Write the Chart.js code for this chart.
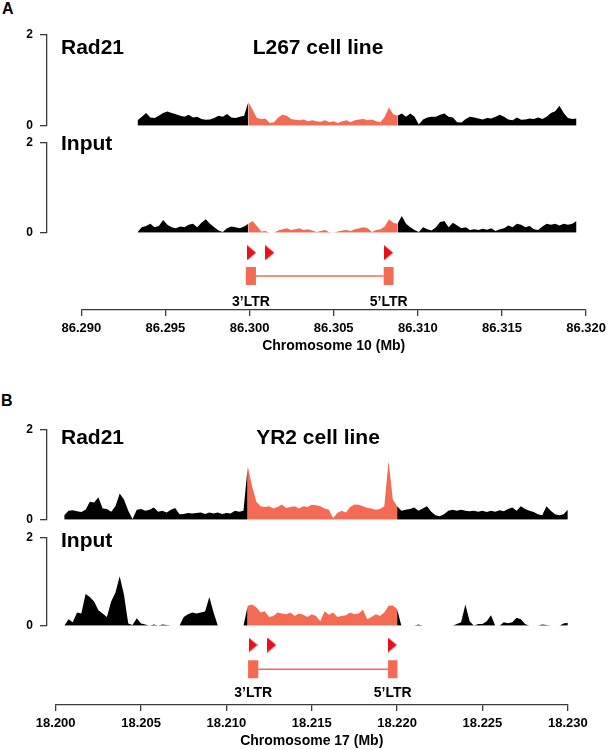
<!DOCTYPE html>
<html>
<head>
<meta charset="utf-8">
<script src="https://cdn.jsdelivr.net/npm/chart.js@4.4.0/dist/chart.umd.min.js"></script>
<style>
  body { margin: 0; background: #fff; }
  #page { position: relative; width: 611px; height: 750px; overflow: hidden;
          font-family: "Liberation Sans", Arial, Helvetica, sans-serif; font-weight: bold; color: #000; }
  #page canvas { position: absolute; left: 0; }
  .lbl { position: absolute; white-space: nowrap; }
</style>
</head>
<body>
<div id="page"></div>
<script>
// coverage bins are 0.25 kb wide, first bin position given per track (Mb)
const binKb = 0.25

// Panel A - L267 cell line, chromosome 10
const startA = 86.2933
const rad21A = [
  0.12, 0.2, 0.28, 0.18, 0.17, 0.22, 0.28, 0.31, 0.28, 0.25,
  0.22, 0.2, 0.24, 0.18, 0.2, 0.15, 0.13, 0.14, 0.17, 0.22,
  0.2, 0.26, 0.18, 0.17, 0.2, 0.22, 0.52, 0.35, 0.17, 0.15,
  0.16, 0.06, 0.08, 0.18, 0.24, 0.22, 0.15, 0.13, 0.12, 0.14,
  0.1, 0.12, 0.1, 0.09, 0.12, 0.08, 0.1, 0.06, 0.1, 0.12,
  0.08, 0.12, 0.14, 0.15, 0.12, 0.14, 0.1, 0.08, 0.2, 0.4,
  0.25, 0.22, 0.27, 0.2, 0.27, 0.2, 0.03, 0.14, 0.18, 0.2,
  0.2, 0.24, 0.27, 0.2, 0.18, 0.08, 0.07, 0.15, 0.2, 0.18,
  0.16, 0.14, 0.17, 0.16, 0.2, 0.24, 0.2, 0.14, 0.12, 0.18,
  0.13, 0.14, 0.16, 0.15, 0.18, 0.15, 0.2, 0.28, 0.32, 0.44,
  0.28, 0.17, 0.15, 0.16
]
const inputA = [
  0.02, 0.12, 0.15, 0.2, 0.12, 0.15, 0.28, 0.18, 0.12, 0.1,
  0.14, 0.12, 0.18, 0.2, 0.12, 0.22, 0.3, 0.2, 0.12, 0.05,
  0.02, 0.1, 0.14, 0.12, 0.1, 0.14, 0.2, 0.26, 0.15, 0.03,
  0.04, 0, 0, 0.05, 0.08, 0.1, 0.06, 0.08, 0.1, 0.06,
  0.08, 0.05, 0.02, 0.04, 0.06, 0.01, 0, 0.03, 0.05, 0.06,
  0.04, 0.08, 0.1, 0.12, 0.1, 0.02, 0.06, 0.08, 0.14, 0.3,
  0.22, 0.2, 0.37, 0.2, 0.12, 0.06, 0.02, 0.12, 0.08, 0.05,
  0.12, 0.24, 0.26, 0.12, 0.22, 0.16, 0.1, 0.12, 0.06, 0.08,
  0.06, 0.09, 0.07, 0.1, 0.04, 0.08, 0.1, 0.16, 0.12, 0.2,
  0.18, 0.12, 0.15, 0.08, 0.06, 0.14, 0.2, 0.18, 0.2, 0.16,
  0.2, 0.18, 0.2, 0.26
]
const ltrA = [[86.29978, 86.30038], [86.30797, 86.30856]]
const motifsA = [86.30012, 86.3012, 86.30826]
const ticksA = [86.29, 86.295, 86.3, 86.305, 86.31, 86.315, 86.32]

// Panel B - YR2 cell line, chromosome 17
const startB = 18.2005
const rad21B = [
  0.1, 0.2, 0.21, 0.19, 0.17, 0.22, 0.4, 0.38, 0.5, 0.25,
  0.24, 0.18, 0.3, 0.58, 0.45, 0.2, 0.02, 0.22, 0.24, 0.2,
  0.22, 0.27, 0.18, 0.2, 0.16, 0.22, 0.26, 0.12, 0.13, 0.15,
  0.14, 0.15, 0.16, 0.13, 0.16, 0.14, 0.16, 0.13, 0.15, 0.14,
  0.2, 0.18, 0.2, 1.18, 0.75, 0.4, 0.3, 0.28, 0.3, 0.25,
  0.28, 0.34, 0.26, 0.28, 0.3, 0.25, 0.3, 0.28, 0.33, 0.32,
  0.3, 0.25, 0.22, 0.04, 0.15, 0.2, 0.16, 0.28, 0.34, 0.33,
  0.3, 0.26, 0.25, 0.22, 0.24, 0.3, 1.3, 0.45, 0.3, 0.2,
  0.22, 0.24, 0.27, 0.2, 0.25, 0.3, 0.18, 0.1, 0.08, 0.12,
  0.2, 0.22, 0.2, 0.22, 0.2, 0.19, 0.2, 0.18, 0.2, 0.17,
  0.2, 0.18, 0.21, 0.19, 0.24, 0.27, 0.2, 0.3, 0.24, 0.2,
  0.17, 0.12, 0.1, 0.3, 0.2, 0.12, 0.1, 0.12, 0.22, 0.14,
  0.12
]
const inputB = [
  0, 0.15, 0.08, 0.3, 0.28, 0.72, 0.65, 0.55, 0.35, 0.28,
  0.2, 0.55, 0.75, 1.12, 0.7, 0.05, 0.02, 0.17, 0.05, 0.03,
  0, 0.03, 0, 0.03, 0.02, 0, 0, 0, 0.2, 0.26,
  0.3, 0.28, 0.3, 0.32, 0.65, 0.3, 0, 0, 0, 0,
  0, 0, 0, 0.45, 0.48, 0.42, 0.3, 0.33, 0.2, 0.22,
  0.3, 0.28, 0.26, 0.3, 0.22, 0.28, 0.25, 0.2, 0.26, 0.22,
  0.1, 0.33, 0.25, 0.3, 0.2, 0.22, 0.24, 0.3, 0.26, 0.28,
  0.36, 0.15, 0.2, 0.26, 0.22, 0.3, 0.45, 0.46, 0.38, 0,
  0, 0, 0, 0.03, 0, 0, 0, 0, 0, 0,
  0, 0, 0.04, 0.08, 0.48, 0.1, 0, 0.04, 0.04, 0.1,
  0.24, 0, 0, 0.08, 0.06, 0.08, 0.18, 0.15, 0.04, 0,
  0, 0, 0.03, 0.02, 0, 0, 0, 0.05, 0.07, 0,
  0
]
const ltrB = [[18.21127, 18.21187], [18.21947, 18.22002]]
const motifsB = [18.21156, 18.21266, 18.21972]
const ticksB = [18.2, 18.205, 18.21, 18.215, 18.22, 18.225, 18.23]

const ltrNames = ['3\u2019LTR', '5\u2019LTR']

// ---- layout / style ----
const PAGE_W = 611
const BRACKET_X = 47
const FONT = '"Liberation Sans", Arial, Helvetica, sans-serif'
const BLACK = '#000000'
const SALMON = '#f46b54'
const RED = '#e8111b'
const GREY = '#3a3a3a'

const page = document.getElementById('page')

const panelA = {
  min: 86.29, max: 86.32, axisLeft: 81.3, plotRight: 592.7,
  ticks: ticksA, ltr: ltrA, motifs: motifsA, title: 'Chromosome 10 (Mb)',
  axisY: 310, motifRow: 57.3, boxRow: 34, boxH: 18, labelRow: 4
}
const panelB = {
  min: 18.2, max: 18.23, axisLeft: 55.7, plotRight: 567.8,
  ticks: ticksB, ltr: ltrB, motifs: motifsB, title: 'Chromosome 17 (Mb)',
  axisY: 705, motifRow: 60, boxRow: 35.8, boxH: 18, labelRow: 7.7
}

function addCanvas(top, height) {
  const c = document.createElement('canvas')
  c.width = PAGE_W
  c.height = height
  c.style.top = top + 'px'
  page.appendChild(c)
  return c
}

function addText(text, x, baseline, size, center) {
  const d = document.createElement('div')
  d.className = 'lbl'
  d.textContent = text
  d.style.fontSize = size + 'px'
  d.style.lineHeight = size + 'px'
  d.style.top = (baseline - 0.8465 * size) + 'px'
  d.style.left = x + 'px'
  if (center) d.style.transform = 'translateX(-50%)'
  page.appendChild(d)
}

function arrowHead(w, h, color) {
  const c = document.createElement('canvas')
  c.width = w
  c.height = h
  const g = c.getContext('2d')
  g.fillStyle = color
  g.beginPath()
  g.moveTo(0, 0)
  g.lineTo(w, h / 2)
  g.lineTo(0, h)
  g.closePath()
  g.fill()
  return c
}

const baseOptions = {
  responsive: false,
  animation: false,
  events: [],
  plugins: { legend: { display: false }, tooltip: { enabled: false } }
}

// one coverage track: black outside the provirus, salmon between the LTRs
function coverageChart(panel, top, bottom, start, values) {
  const pad = 12
  const canvas = addCanvas(top - pad, bottom - top + 2 * pad)
  const mbPerPx = (panel.max - panel.min) / (panel.plotRight - panel.axisLeft)
  const trackMin = panel.min - (panel.axisLeft - BRACKET_X) * mbPerPx
  const lo = panel.ltr[0][0] - binKb / 2000
  const hi = panel.ltr[1][1] + binKb / 2000
  const xs = values.map((v, i) => start + (i * binKb) / 1000)
  const inside = xs.map((x) => x >= lo && x <= hi)
  const salmon = values.map((v, i) => ({ x: xs[i], y: inside[i] ? v : null }))
  const black = values.map((v, i) => {
    const edge = inside[i] && (!inside[i - 1] || !inside[i + 1])
    return { x: xs[i], y: !inside[i] || edge ? v : null }
  })

  new Chart(canvas, {
    type: 'line',
    data: {
      datasets: [
        { data: salmon, backgroundColor: SALMON, borderWidth: 0, fill: 'origin', pointRadius: 0, spanGaps: false },
        { data: black, backgroundColor: BLACK, borderWidth: 0, fill: 'origin', pointRadius: 0, spanGaps: false },
      ],
    },
    options: {
      ...baseOptions,
      layout: { autoPadding: false, padding: { top: pad, bottom: pad, left: 0, right: PAGE_W - panel.plotRight } },
      scales: {
        x: { type: 'linear', min: trackMin, max: panel.max, display: false },
        y: {
          min: 0,
          max: 2,
          afterFit: (s) => { s.width = BRACKET_X },
          ticks: { stepSize: 2, padding: 7, color: BLACK, font: { family: FONT, size: 12, weight: 'bold' } },
          grid: { drawOnChartArea: false, tickLength: 7, color: GREY, lineWidth: 1.3 },
          border: { color: GREY, width: 1.3 },
        },
      },
    },
  })
}

const ltrLabels = {
  id: 'ltrLabels',
  afterDatasetsDraw(chart, args, opts) {
    const { ctx, scales } = chart
    ctx.save()
    ctx.font = 'bold 14px ' + FONT
    ctx.fillStyle = BLACK
    ctx.textAlign = 'center'
    ctx.textBaseline = 'alphabetic'
    opts.boxes.forEach((b, i) => {
      ctx.fillText(opts.names[i], scales.x.getPixelForValue((b[0] + b[1]) / 2), scales.y.getPixelForValue(opts.row))
    })
    ctx.restore()
  },
}

// gene model row + genomic axis
function featureChart(panel) {
  const axisH = 45
  const canvas = addCanvas(panel.axisY - 72, 72 + axisH)
  const arrow = arrowHead(9, 15, RED)
  const boxSets = panel.ltr.map((b) => ({
    data: [{ x: b[0], y: panel.boxRow }, { x: b[1], y: panel.boxRow }],
    borderColor: SALMON, borderWidth: panel.boxH, borderCapStyle: 'butt', pointRadius: 0, fill: false,
  }))

  new Chart(canvas, {
    type: 'line',
    data: {
      datasets: [
        {
          data: panel.motifs.map((x) => ({ x, y: panel.motifRow })),
          showLine: false, pointStyle: arrow, pointRadius: 5, fill: false,
        },
        ...boxSets,
        {
          data: [{ x: panel.ltr[0][1], y: panel.boxRow }, { x: panel.ltr[1][0], y: panel.boxRow }],
          borderColor: SALMON, borderWidth: 1.5, pointRadius: 0, fill: false,
        },
      ],
    },
    options: {
      ...baseOptions,
      layout: { autoPadding: false, padding: { top: 0, bottom: 0, left: panel.axisLeft, right: PAGE_W - panel.plotRight } },
      plugins: {
        ...baseOptions.plugins,
        ltrLabels: { boxes: panel.ltr, names: ltrNames, row: panel.labelRow },
      },
      scales: {
        x: {
          type: 'linear',
          min: panel.min,
          max: panel.max,
          afterBuildTicks: (s) => { s.ticks = panel.ticks.map((v) => ({ value: v })) },
          afterFit: (s) => { s.height = axisH },
          ticks: {
            autoSkip: false, maxRotation: 0, minRotation: 0, padding: 5, color: BLACK,
            font: { family: FONT, size: 13, weight: 'bold' },
            callback: (v) => Number(v).toFixed(3),
          },
          grid: { drawOnChartArea: false, tickLength: 6, color: GREY, lineWidth: 1.3 },
          border: { color: GREY, width: 1.3 },
          title: { display: true, text: panel.title, color: BLACK, padding: 0, font: { family: FONT, size: 14, weight: 'bold' } },
        },
        y: { min: 0, max: 72, display: false },
      },
    },
    plugins: [ltrLabels],
  })
}

coverageChart(panelA, 32, 128, startA, rad21A)
coverageChart(panelA, 140, 235, startA, inputA)
featureChart(panelA)

coverageChart(panelB, 427, 522, startB, rad21B)
coverageChart(panelB, 535, 628, startB, inputB)
featureChart(panelB)

addText('A', 2, 15, 16)
addText('Rad21', 61, 53.3, 21)
addText('L267 cell line', 318, 53.3, 21, true)
addText('Input', 61, 149.3, 21)

addText('B', 1, 406.7, 16)
addText('Rad21', 61, 443.3, 21)
addText('YR2 cell line', 318, 444, 21, true)
addText('Input', 61, 546.7, 21)
</script>
</body>
</html>
